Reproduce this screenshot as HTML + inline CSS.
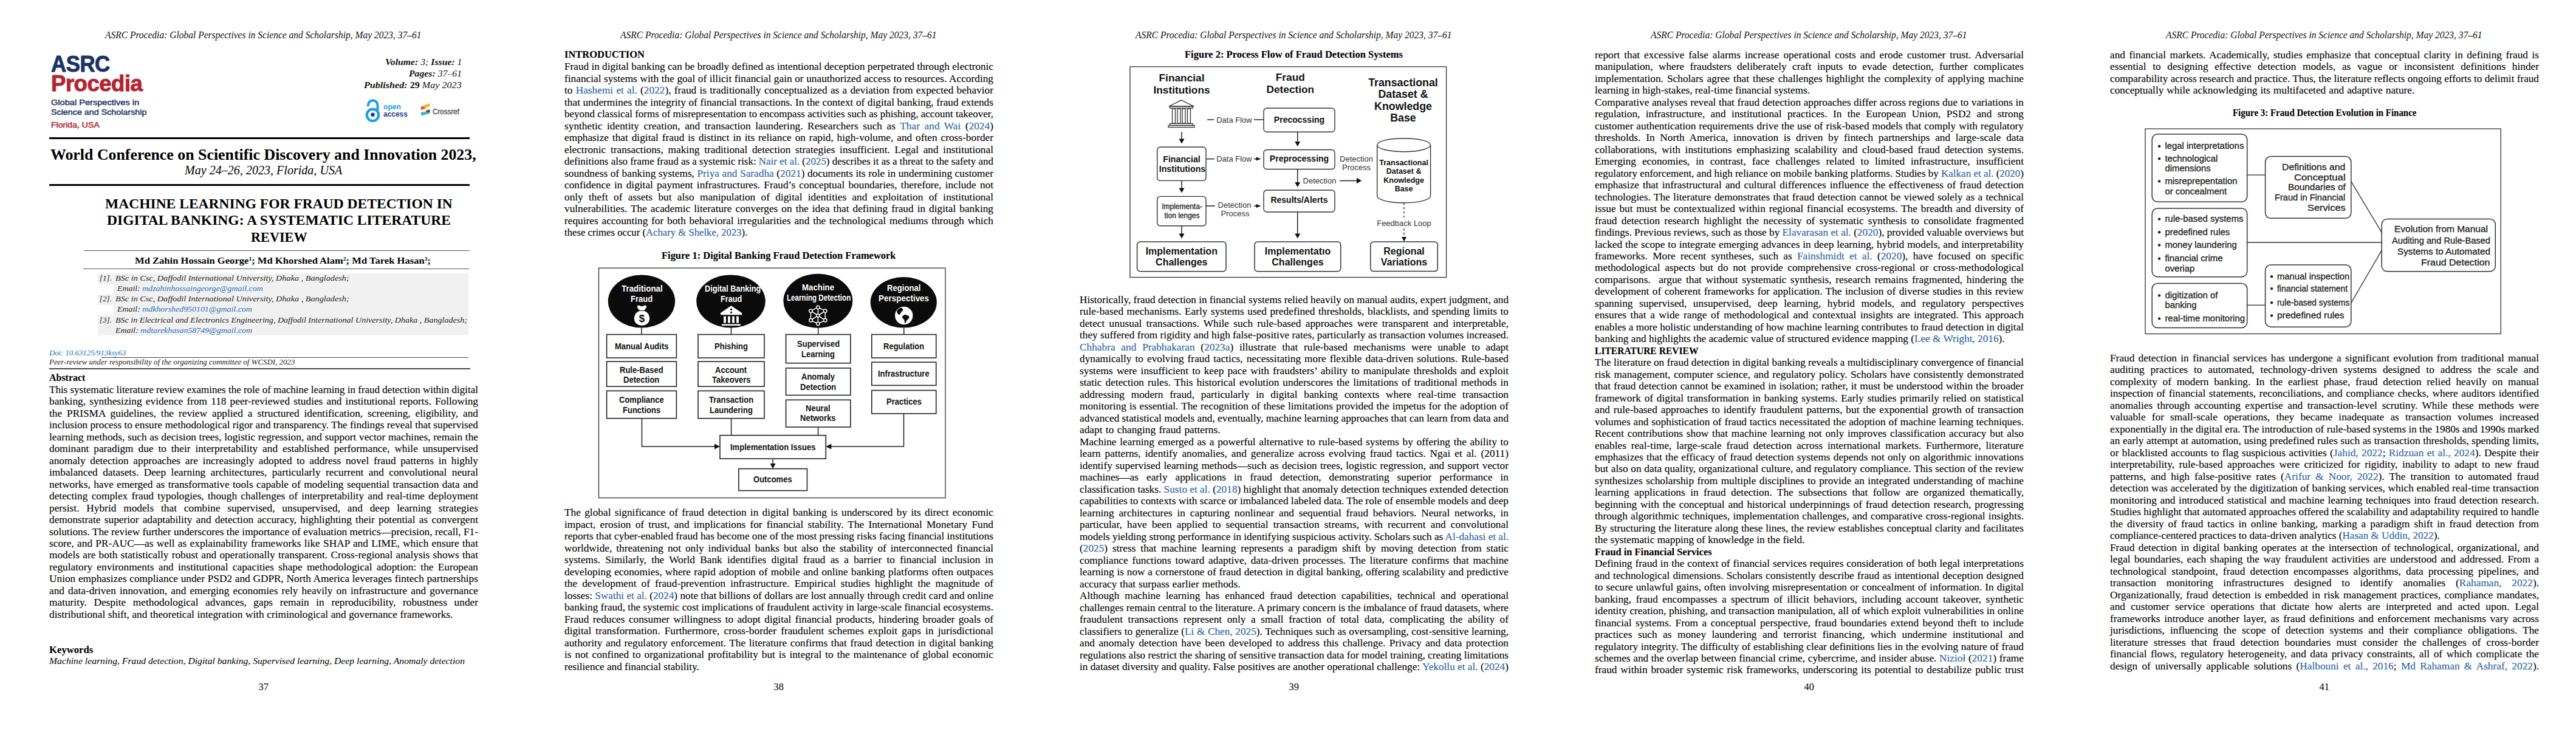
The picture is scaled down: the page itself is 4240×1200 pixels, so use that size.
<!DOCTYPE html>
<html><head><meta charset="utf-8"><title>ASRC Procedia</title><style>

html,body{margin:0;padding:0;background:#fff}
body{width:4240px;height:1200px;position:relative;overflow:hidden}
.pg{position:absolute;top:0;width:848px;height:1200px;overflow:hidden}
.t{position:absolute;white-space:nowrap;font-family:"Liberation Serif",serif;color:#000;transform-origin:0 0;line-height:20px}
.r{position:absolute}
.ic{position:absolute;overflow:visible}
.fg{position:absolute;left:0;top:0;overflow:visible}
.j{text-align:justify;text-align-last:justify}
.a{color:#2b6fb6}
.bd{font-size:16.0px;-webkit-text-stroke:0.1px #000}
.hb{font-weight:bold}
.hd{font-size:16px;font-style:italic;color:#111}
.pn{font-size:16.4px}
.lg{font-family:"Liberation Sans",sans-serif;font-weight:bold;letter-spacing:-0.5px;-webkit-text-stroke:0.9px currentColor}
.lgs{font-family:"Liberation Sans",sans-serif;font-size:13px;-webkit-text-stroke:0.45px currentColor}
.navy{color:#1a3364}
.red{color:#b42431}
.vol{font-size:15.4px;font-style:italic;color:#111}
.vol .up{font-style:normal}
.oa{font-family:"Liberation Sans",sans-serif;font-weight:bold;font-size:12px}
.cr{font-family:"Liberation Sans",sans-serif;font-size:12px;color:#444;-webkit-text-stroke:0.3px #444}
.conf{font-size:25px;font-weight:bold}
.confd{font-size:20px;font-style:italic}
.ttl{font-size:23px;font-weight:bold}
.auth{font-size:15.5px;font-weight:bold}
.auth sup{font-size:9px;vertical-align:5px;line-height:0}
.aff{font-size:13.4px;font-style:italic;color:#222}
.doi{font-size:13px;font-style:italic}
.peer{font-size:12.6px;font-style:italic;color:#222}
.kw{font-size:15.4px;font-style:italic}
.sf{font-family:"Liberation Sans",sans-serif;color:#111}
.sb{font-family:"Liberation Sans",sans-serif;font-weight:bold;color:#111}
.wt{color:#fff}
.sm{font-family:"Liberation Sans",sans-serif;color:#222;-webkit-text-stroke:0.3px #222}
.f1{font-size:13px}
.f1e{font-size:14.8px}
.f1b{font-size:14.8px}
.f2h{font-size:17.3px}
.f2h2{font-size:17.8px}
.f2s{font-size:13px;color:#333}
.f2b{font-size:14px}
.f2m{font-size:14.2px}
.f2i{font-size:12px}
.f2c{font-size:12.5px}
.f2g{font-size:16px}
.f3{font-size:14.9px;color:#222;-webkit-text-stroke:0.3px #222}

</style></head><body>
<div class="pg" style="left:0px">
<div class="t hd" style="left: 173px; top: 47.9px; transform: scaleX(0.9691);">ASRC Procedia: Global Perspectives in Science and Scholarship, May 2023, 37–61</div>
<div class="t pn" style="left: 425.6px; top: 1120.5px;">37</div>
<div class="t lg navy" style="font-size: 36px; left: 83.6px; top: 95.5px; transform: scaleX(0.9668);">ASRC</div>
<div class="t lg red" style="font-size: 37px; left: 83.6px; top: 127.5px; transform: scaleX(0.9875);">Procedia</div>
<div class="t lgs navy" style="left: 83.6px; top: 158.6px; transform: scaleX(1.1218);">Global Perspectives in</div>
<div class="t lgs navy" style="left: 83.6px; top: 175.1px; transform: scaleX(1.1);">Science and Scholarship</div>
<div class="t lgs red" style="left: 83.6px; top: 196.2px; transform: scaleX(1.0827);">Florida, USA</div>
<div class="t vol" style="left: 633.5px; top: 92.3px; transform: scaleX(1.0235);"><b>Volume:</b> 3; <b>Issue:</b> 1</div>
<div class="t vol" style="left: 673px; top: 111px; transform: scaleX(1.0226);"><b>Pages:</b> 37–61</div>
<div class="t vol" style="left: 599.3px; top: 129.7px; transform: scaleX(1.0469);"><b>Published:</b> <b class="up">29</b> May 2023</div>
<svg class="ic" style="left:600px;top:160px" width="30" height="44" viewBox="0 0 30 44">
<path d="M5.9 15 V13 A7.8 7.8 0 0 1 21.5 13 V23" fill="none" stroke="#1ba0e2" stroke-width="4"></path>
<circle cx="13.5" cy="29.3" r="9.7" fill="none" stroke="#1ba0e2" stroke-width="4.2"></circle>
<circle cx="13.5" cy="28.8" r="3.3" fill="#1d3e8e"></circle>
</svg>
<div class="t oa" style="color: rgb(27, 160, 226); left: 630.8px; top: 165.5px; transform: scaleX(1.008);">open</div>
<div class="t oa" style="color: rgb(29, 62, 142); left: 630.8px; top: 178px; transform: scaleX(0.9938);">access</div>
<svg class="ic" style="left:692px;top:169px" width="18" height="23" viewBox="0 0 18 23">
<polygon points="1,6.2 15.5,0.7 15.5,6 1,11.4" fill="#f6b52a"></polygon>
<polygon points="1,6 9.5,8.8 1,12" fill="#e8402f"></polygon>
<polygon points="4.5,12.4 14.4,10.2 14.4,11.6 4.5,13.8" fill="#d5d5d5"></polygon>
<polygon points="8.9,13.4 15.5,11 15.5,16.8 8.9,15.8" fill="#4a4f55"></polygon>
<polygon points="1.2,15.2 8.9,15.5 15.5,16.8 15.5,17.6 1.2,21.8" fill="#3eb1c8"></polygon>
</svg>
<div class="t cr" style="left: 711.6px; top: 173.5px; transform: scaleX(0.9704);">Crossref</div>
<div class="r" style="left:81.00px;top:225.80px;width:692.00px;height:3.70px;background:#000"></div>
<div class="t conf" style="left: 83.3px; top: 244.5px; transform: scaleX(1.0345);">World Conference on Scientific Discovery and Innovation 2023,</div>
<div class="t confd" style="left: 303.8px; top: 270px; transform: scaleX(1.0034);">May 24–26, 2023, Florida, USA</div>
<div class="r" style="left:81.00px;top:302.80px;width:692.00px;height:3.70px;background:#000"></div>
<div class="t ttl" style="left: 173.2px; top: 326.3px; transform: scaleX(1.0228);">MACHINE LEARNING FOR FRAUD DETECTION IN</div>
<div class="t ttl" style="left: 176px; top: 352.9px; transform: scaleX(1.0251);">DIGITAL BANKING: A SYSTEMATIC LITERATURE</div>
<div class="t ttl" style="left: 413px; top: 380.8px; transform: scaleX(0.967);">REVIEW</div>
<div class="r" style="left:138.30px;top:412.00px;width:634.70px;height:1.20px;background:#555"></div>
<div class="t auth" style="left: 222px; top: 419.4px; transform: scaleX(1.0692);">Md Zahin Hossain George<sup>1</sup>; Md Khorshed Alam<sup>2</sup>; Md Tarek Hasan<sup>3</sup>;</div>
<div class="r" style="left:137.00px;top:442.20px;width:635.00px;height:1.20px;background:#555"></div>
<div class="r" style="left:161.30px;top:449.70px;width:609.70px;height:102.60px;background:#f1f1f1"></div>
<div class="r" style="left:161.30px;top:467.50px;width:25.20px;height:17.00px;background:#fff"></div>
<div class="r" style="left:161.30px;top:501.50px;width:25.20px;height:17.00px;background:#fff"></div>
<div class="t aff" style="left: 163.7px; top: 448px;">[1].</div>
<div class="t aff" style="left: 189.7px; top: 448px; transform: scaleX(1.0631);">BSc in Csc, Daffodil International University, Dhaka , Bangladesh;</div>
<div class="t aff" style="left: 192.9px; top: 464.9px; transform: scaleX(1.0364);">Email: <span class="a">mdzahinhossaingeorge@gmail.com</span></div>
<div class="t aff" style="left: 163.7px; top: 482.3px;">[2].</div>
<div class="t aff" style="left: 189.7px; top: 482.3px; transform: scaleX(1.0631);">BSc in Csc, Daffodil International University, Dhaka , Bangladesh;</div>
<div class="t aff" style="left: 192.9px; top: 499.1px; transform: scaleX(1.0369);">Email: <span class="a">mdkhorshed950101@gmail.com</span></div>
<div class="t aff" style="left: 163.7px; top: 517px;">[3].</div>
<div class="t aff" style="left: 189.7px; top: 517px; transform: scaleX(1.0499);">BSc in Electrical and Electronics Engineering, Daffodil International University, Dhaka , Bangladesh;</div>
<div class="t aff" style="left: 189.7px; top: 534.3px; transform: scaleX(1.0363);">Email: <span class="a">mdtarekhasan58749@gmail.com</span></div>
<div class="t doi a" style="left: 81px; top: 571px; transform: scaleX(0.9825);">Doi: 10.63125/913ksy63</div>
<div class="r" style="left:167.00px;top:587.70px;width:604.00px;height:1.10px;background:#444"></div>
<div class="t peer" style="left: 81px; top: 586.2px; transform: scaleX(1.0256);">Peer-review under responsibility of the organizing committee of WCSDI, 2023</div>
<div class="r" style="left:81.00px;top:606.00px;width:693.30px;height:1.60px;background:#444"></div>
<div class="t bd hb" style="left: 81px; top: 611.7px; transform: scaleX(0.9975);">Abstract</div>
<div class="t bd j" style="left: 81px; top: 631.9px; width: 664.67px; transform: scaleX(1.0622);">This systematic literature review examines the role of machine learning in fraud detection within digital</div>
<div class="t bd j" style="left: 81px; top: 651.37px; width: 653.1px; transform: scaleX(1.081);">banking, synthesizing evidence from 118 peer-reviewed studies and institutional reports. Following</div>
<div class="t bd j" style="left: 81px; top: 670.84px; width: 653.1px; transform: scaleX(1.081);">the PRISMA guidelines, the review applied a structured identification, screening, eligibility, and</div>
<div class="t bd j" style="left: 81px; top: 690.31px; width: 655.81px; transform: scaleX(1.0765);">inclusion process to ensure methodological rigor and transparency. The findings reveal that supervised</div>
<div class="t bd j" style="left: 81px; top: 709.78px; width: 653.1px; transform: scaleX(1.081);">learning methods, such as decision trees, logistic regression, and support vector machines, remain the</div>
<div class="t bd j" style="left: 81px; top: 729.25px; width: 653.1px; transform: scaleX(1.081);">dominant paradigm due to their interpretability and established performance, while unsupervised</div>
<div class="t bd j" style="left: 81px; top: 748.72px; width: 653.1px; transform: scaleX(1.081);">anomaly detection approaches are increasingly adopted to address novel fraud patterns in highly</div>
<div class="t bd j" style="left: 81px; top: 768.19px; width: 653.1px; transform: scaleX(1.081);">imbalanced datasets. Deep learning architectures, particularly recurrent and convolutional neural</div>
<div class="t bd j" style="left: 81px; top: 787.66px; width: 653.1px; transform: scaleX(1.081);">networks, have emerged as transformative tools capable of modeling sequential transaction data and</div>
<div class="t bd j" style="left: 81px; top: 807.13px; width: 653.1px; transform: scaleX(1.081);">detecting complex fraud typologies, though challenges of interpretability and real-time deployment</div>
<div class="t bd j" style="left: 81px; top: 826.6px; width: 653.1px; transform: scaleX(1.081);">persist. Hybrid models that combine supervised, unsupervised, and deep learning strategies</div>
<div class="t bd j" style="left: 81px; top: 846.07px; width: 653.1px; transform: scaleX(1.081);">demonstrate superior adaptability and detection accuracy, highlighting their potential as convergent</div>
<div class="t bd j" style="left: 81px; top: 865.54px; width: 653.1px; transform: scaleX(1.081);">solutions. The review further underscores the importance of evaluation metrics—precision, recall, F1-</div>
<div class="t bd j" style="left: 81px; top: 885.01px; width: 653.1px; transform: scaleX(1.081);">score, and PR-AUC—as well as explainability frameworks like SHAP and LIME, which ensure that</div>
<div class="t bd j" style="left: 81px; top: 904.48px; width: 653.1px; transform: scaleX(1.081);">models are both statistically robust and operationally transparent. Cross-regional analysis shows that</div>
<div class="t bd j" style="left: 81px; top: 923.95px; width: 653.1px; transform: scaleX(1.081);">regulatory environments and institutional capacities shape methodological adoption: the European</div>
<div class="t bd j" style="left: 81px; top: 943.42px; width: 653.1px; transform: scaleX(1.081);">Union emphasizes compliance under PSD2 and GDPR, North America leverages fintech partnerships</div>
<div class="t bd j" style="left: 81px; top: 962.89px; width: 653.1px; transform: scaleX(1.081);">and data-driven innovation, and emerging economies rely heavily on infrastructure and governance</div>
<div class="t bd j" style="left: 81px; top: 982.36px; width: 653.1px; transform: scaleX(1.081);">maturity. Despite methodological advances, gaps remain in reproducibility, robustness under</div>
<div class="t bd j" style="left: 81px; top: 1001.83px; width: 614.62px; transform: scaleX(1.081);">distributional shift, and theoretical integration with criminological and governance frameworks.</div>
<div class="t bd hb" style="left: 81px; top: 1060px; transform: scaleX(1.0429);">Keywords</div>
<div class="t kw" style="left: 81px; top: 1078px; transform: scaleX(1.0197);">Machine learning, Fraud detection, Digital banking, Supervised learning, Deep learning, Anomaly detection</div>
</div>
<div class="pg" style="left:848px">
<div class="t hd" style="left: 172.8px; top: 47.9px; transform: scaleX(0.9691);">ASRC Procedia: Global Perspectives in Science and Scholarship, May 2023, 37–61</div>
<div class="t pn" style="left: 425.6px; top: 1120.5px;">38</div>
<div class="t bd hb" style="left: 81px; top: 80.3px; transform: scaleX(1.0311);">INTRODUCTION</div>
<div class="t bd j" style="left: 81px; top: 100.2px; width: 657.11px; transform: scaleX(1.0744);">Fraud in digital banking can be broadly defined as intentional deception perpetrated through electronic</div>
<div class="t bd j" style="left: 81px; top: 119.69px; width: 653.1px; transform: scaleX(1.081);">financial systems with the goal of illicit financial gain or unauthorized access to resources. According</div>
<div class="t bd j" style="left: 81px; top: 139.17px; width: 653.1px; transform: scaleX(1.081);">to <span class="a">Hashemi et al.</span> (<span class="a">2022</span>), fraud is traditionally conceptualized as a deviation from expected behavior</div>
<div class="t bd j" style="left: 81px; top: 158.66px; width: 653.1px; transform: scaleX(1.081);">that undermines the integrity of financial transactions. In the context of digital banking, fraud extends</div>
<div class="t bd j" style="left: 81px; top: 178.14px; width: 664.06px; transform: scaleX(1.0632);">beyond classical forms of misrepresentation to encompass activities such as phishing, account takeover,</div>
<div class="t bd j" style="left: 81px; top: 197.62px; width: 653.1px; transform: scaleX(1.081);">synthetic identity creation, and transaction laundering. Researchers such as <span class="a">Thar and Wai</span> (<span class="a">2024</span>)</div>
<div class="t bd j" style="left: 81px; top: 217.11px; width: 653.1px; transform: scaleX(1.081);">emphasize that digital fraud is distinct in its reliance on rapid, high-volume, and often cross-border</div>
<div class="t bd j" style="left: 81px; top: 236.59px; width: 653.1px; transform: scaleX(1.081);">electronic transactions, making traditional detection strategies insufficient. Legal and institutional</div>
<div class="t bd j" style="left: 81px; top: 256.08px; width: 666.91px; transform: scaleX(1.0586);">definitions also frame fraud as a systemic risk: <span class="a">Nair et al.</span> (<span class="a">2025</span>) describes it as a threat to the safety and</div>
<div class="t bd j" style="left: 81px; top: 275.56px; width: 653.1px; transform: scaleX(1.081);">soundness of banking systems, <span class="a">Priya and Saradha</span> (<span class="a">2021</span>) documents its role in undermining customer</div>
<div class="t bd j" style="left: 81px; top: 295.05px; width: 653.1px; transform: scaleX(1.081);">confidence in digital payment infrastructures. Fraud’s conceptual boundaries, therefore, include not</div>
<div class="t bd j" style="left: 81px; top: 314.53px; width: 653.1px; transform: scaleX(1.081);">only theft of assets but also manipulation of digital identities and exploitation of institutional</div>
<div class="t bd j" style="left: 81px; top: 334.02px; width: 653.1px; transform: scaleX(1.081);">vulnerabilities. The academic literature converges on the idea that defining fraud in digital banking</div>
<div class="t bd j" style="left: 81px; top: 353.5px; width: 653.1px; transform: scaleX(1.081);">requires accounting for both behavioral irregularities and the technological mediums through which</div>
<div class="t bd j" style="left: 81px; top: 372.99px; width: 288.8px; transform: scaleX(1.0433);">these crimes occur (<span class="a">Achary &amp; Shelke, 2023</span>).</div>
<div class="t bd hb" style="left: 241px; top: 410.8px; transform: scaleX(1.0286);">Figure 1: Digital Banking Fraud Detection Framework</div>
<div class="t bd j" style="left: 81px; top: 834.2px; width: 653.1px; transform: scaleX(1.081);">The global significance of fraud detection in digital banking is underscored by its direct economic</div>
<div class="t bd j" style="left: 81px; top: 853.7px; width: 653.1px; transform: scaleX(1.081);">impact, erosion of trust, and implications for financial stability. The International Monetary Fund</div>
<div class="t bd j" style="left: 81px; top: 873.2px; width: 657.27px; transform: scaleX(1.0741);">reports that cyber-enabled fraud has become one of the most pressing risks facing financial institutions</div>
<div class="t bd j" style="left: 81px; top: 892.7px; width: 653.1px; transform: scaleX(1.081);">worldwide, threatening not only individual banks but also the stability of interconnected financial</div>
<div class="t bd j" style="left: 81px; top: 912.2px; width: 653.1px; transform: scaleX(1.081);">systems. Similarly, the World Bank identifies digital fraud as a barrier to financial inclusion in</div>
<div class="t bd j" style="left: 81px; top: 931.7px; width: 653.1px; transform: scaleX(1.081);">developing economies, where rapid adoption of mobile and online banking platforms often outpaces</div>
<div class="t bd j" style="left: 81px; top: 951.2px; width: 653.1px; transform: scaleX(1.081);">the development of fraud-prevention infrastructure. Empirical studies highlight the magnitude of</div>
<div class="t bd j" style="left: 81px; top: 970.7px; width: 655.86px; transform: scaleX(1.0765);">losses: <span class="a">Swathi et al.</span> (<span class="a">2024</span>) note that billions of dollars are lost annually through credit card and online</div>
<div class="t bd j" style="left: 81px; top: 990.2px; width: 659.06px; transform: scaleX(1.0712);">banking fraud, the systemic cost implications of fraudulent activity in large-scale financial ecosystems.</div>
<div class="t bd j" style="left: 81px; top: 1009.7px; width: 653.1px; transform: scaleX(1.081);">Fraud reduces consumer willingness to adopt digital financial products, hindering broader goals of</div>
<div class="t bd j" style="left: 81px; top: 1029.2px; width: 653.1px; transform: scaleX(1.081);">digital transformation. Furthermore, cross-border fraudulent schemes exploit gaps in jurisdictional</div>
<div class="t bd j" style="left: 81px; top: 1048.7px; width: 653.1px; transform: scaleX(1.081);">authority and regulatory enforcement. The literature confirms that fraud detection in digital banking</div>
<div class="t bd j" style="left: 81px; top: 1068.2px; width: 653.1px; transform: scaleX(1.081);">is not confined to organizational profitability but is integral to the maintenance of global economic</div>
<div class="t bd j" style="left: 81px; top: 1087.7px; width: 206.89px; transform: scaleX(1.0716);">resilience and financial stability.</div>
<svg class="fg" width="848" height="1200" viewBox="0 0 848 1200"><rect x="137.50" y="441.20" width="570.50" height="378.30" rx="0" fill="#fff" stroke="#333" stroke-width="1.3"></rect><ellipse cx="208" cy="496.0" rx="55.2" ry="43.5" fill="#0b0b0b"></ellipse><ellipse cx="355" cy="496.0" rx="56.8" ry="43.5" fill="#0b0b0b"></ellipse><ellipse cx="498.4000000000001" cy="495.2" rx="57" ry="44.5" fill="#0b0b0b"></ellipse><ellipse cx="639.3" cy="497.8" rx="54.6" ry="41.8" fill="#0b0b0b"></ellipse><path d="M208 537 V551" fill="none" stroke="#222" stroke-width="1.5"></path><path d="M355.5 537 V551" fill="none" stroke="#222" stroke-width="1.5"></path><path d="M498.70000000000005 539 V551" fill="none" stroke="#222" stroke-width="1.5"></path><path d="M639.8 540 V551" fill="none" stroke="#222" stroke-width="1.5"></path><rect x="150.60" y="550.60" width="114.80" height="38.50" rx="0" fill="#fff" stroke="#222" stroke-width="1.6"></rect><rect x="150.60" y="595.20" width="114.80" height="41.00" rx="0" fill="#fff" stroke="#222" stroke-width="1.6"></rect><rect x="150.60" y="643.40" width="114.80" height="45.30" rx="0" fill="#fff" stroke="#222" stroke-width="1.6"></rect><rect x="301.00" y="550.60" width="109.00" height="38.50" rx="0" fill="#fff" stroke="#222" stroke-width="1.6"></rect><rect x="301.00" y="595.20" width="109.00" height="41.00" rx="0" fill="#fff" stroke="#222" stroke-width="1.6"></rect><rect x="301.00" y="643.40" width="109.00" height="45.30" rx="0" fill="#fff" stroke="#222" stroke-width="1.6"></rect><rect x="445.60" y="550.60" width="106.30" height="47.10" rx="0" fill="#fff" stroke="#222" stroke-width="1.6"></rect><rect x="445.60" y="605.90" width="106.30" height="44.60" rx="0" fill="#fff" stroke="#222" stroke-width="1.6"></rect><rect x="445.60" y="658.30" width="106.30" height="44.70" rx="0" fill="#fff" stroke="#222" stroke-width="1.6"></rect><rect x="586.80" y="550.60" width="106.00" height="38.50" rx="0" fill="#fff" stroke="#222" stroke-width="1.6"></rect><rect x="586.80" y="596.30" width="106.00" height="38.10" rx="0" fill="#fff" stroke="#222" stroke-width="1.6"></rect><rect x="586.80" y="642.60" width="106.00" height="38.20" rx="0" fill="#fff" stroke="#222" stroke-width="1.6"></rect><rect x="337.00" y="716.60" width="174.30" height="38.50" rx="0" fill="#fff" stroke="#222" stroke-width="1.6"></rect><rect x="367.90" y="771.60" width="112.60" height="36.00" rx="0" fill="#fff" stroke="#222" stroke-width="1.6"></rect><path d="M208.5 688.7 V735.1 H330" fill="none" stroke="#222" stroke-width="1.5"></path><path d="M355.5999999999999 688.7 V716.6" fill="none" stroke="#222" stroke-width="1.5"></path><path d="M498.5999999999999 703 V716.6" fill="none" stroke="#222" stroke-width="1.5"></path><path d="M639.5 680.8 V735.1 H518" fill="none" stroke="#222" stroke-width="1.5"></path><path d="M424.0999999999999 755.1 V765" fill="none" stroke="#222" stroke-width="1.5"></path><polygon points="337,735.1 328,730.6 328,739.6" fill="#111"></polygon><polygon points="511.29999999999995,735.1 520.3,730.6 520.3,739.6" fill="#111"></polygon><polygon points="424.0999999999999,771.6 419.5999999999999,763 428.5999999999999,763" fill="#111"></polygon><g transform="translate(208.5,0)" fill="#fff"><path d="M-7.6 505.4 C-8.2 502.6 -4.5 502.2 -2.2 503.8 C-1 504.5 1 504.5 2.2 503.8 C4.5 502.2 8.2 502.6 7.6 505.4 C6.8 507.5 5 509.5 3.8 511 L-3.8 511 C-5 509.5 -6.8 507.5 -7.6 505.4 Z"></path><path d="M-3.6 512 C-9 513 -12.6 518 -12.6 524.5 C-12.6 531.5 -7 535.8 0 535.8 C7 535.8 12.6 531.5 12.6 524.5 C12.6 518 9 513 3.6 512 Z"></path><text x="0" y="529.6" text-anchor="middle" font-family="Liberation Sans" font-weight="bold" font-size="17" fill="#0b0b0b">$</text></g><g transform="translate(355.5,0)" fill="#fff"><path d="M0 503.2 L17.5 515 L17.5 518.2 L-17.5 518.2 L-17.5 515 Z"></path><circle cx="0" cy="509.2" r="1.7" fill="#0b0b0b"></circle><circle cx="0" cy="514.2" r="1.5" fill="#0b0b0b"></circle><rect x="-12.4" y="520.6" width="3.8" height="11"></rect><rect x="-5.4" y="520.6" width="3.8" height="11"></rect><rect x="1.6" y="520.6" width="3.8" height="11"></rect><rect x="8.6" y="520.6" width="3.8" height="11"></rect><rect x="-15.5" y="533.6" width="31" height="2.4"></rect></g><g transform="translate(498.4000000000001,519.5)" stroke="#fff" stroke-width="1.5" fill="none"><line x1="0" y1="-13.6" x2="11.9" y2="-7.8"></line><line x1="0" y1="0" x2="0" y2="-13.6"></line><line x1="11.9" y1="-7.8" x2="11.9" y2="7.7"></line><line x1="0" y1="0" x2="11.9" y2="-7.8"></line><line x1="11.9" y1="7.7" x2="0" y2="13.5"></line><line x1="0" y1="0" x2="11.9" y2="7.7"></line><line x1="0" y1="13.5" x2="-11.9" y2="7.7"></line><line x1="0" y1="0" x2="0" y2="13.5"></line><line x1="-11.9" y1="7.7" x2="-11.9" y2="-7.8"></line><line x1="0" y1="0" x2="-11.9" y2="7.7"></line><line x1="-11.9" y1="-7.8" x2="0" y2="-13.6"></line><line x1="0" y1="0" x2="-11.9" y2="-7.8"></line><circle cx="0" cy="-13.6" r="2.7" fill="#0b0b0b"></circle><circle cx="11.9" cy="-7.8" r="2.7" fill="#0b0b0b"></circle><circle cx="11.9" cy="7.7" r="2.7" fill="#0b0b0b"></circle><circle cx="0" cy="13.5" r="2.7" fill="#0b0b0b"></circle><circle cx="-11.9" cy="7.7" r="2.7" fill="#0b0b0b"></circle><circle cx="-11.9" cy="-7.8" r="2.7" fill="#0b0b0b"></circle><circle cx="0" cy="0" r="2.4" fill="#0b0b0b"></circle></g><g transform="translate(639.8,519.5)"><circle r="14.7" fill="#fff"></circle><path d="M-10.1 -10.1 C-7 -12.5 -4 -13 -3.1 -12.4 C-2 -11 -1.2 -9.5 -1.6 -8.5 C-3 -7 -4 -6.5 -4.7 -5.4 C-5.5 -3.5 -6 -1.8 -7 -1.6 C-8.5 -1.5 -9.5 -2 -9.7 -2.3 C-10.5 -4 -11.8 -6 -11.6 -7 Z" fill="#0b0b0b"></path><path d="M-3.1 1.6 C-1 -0.5 0.5 -1.8 2.3 -1.6 C4 -1.2 5.5 -0.5 7 0 C8.5 1 9 2.5 8.5 3.9 C7.5 5.5 6 6.5 4.7 7.8 C4 9 3.8 10.5 3.1 11.6 C2.5 12.3 2 12.6 1.6 12.4 C1 11 0.9 9 0.8 7.8 C0.3 6.5 -0.5 5.5 -1.6 4.7 C-2.5 3.8 -3.3 2.5 -3.1 1.6 Z" fill="#0b0b0b"></path></g></svg>
<div class="t sb f1e wt" style="left: 174.5px; top: 465px; transform: scaleX(0.9061);">Traditional</div>
<div class="t sb f1e wt" style="left: 190.05px; top: 482px; transform: scaleX(0.883);">Fraud</div>
<div class="t sb f1e wt" style="left: 312.4px; top: 465px; transform: scaleX(0.8561);">Digital Banking</div>
<div class="t sb f1e wt" style="left: 337.6px; top: 482px; transform: scaleX(0.8611);">Fraud</div>
<div class="t sb f1e wt" style="left: 471.75px; top: 462.5px; transform: scaleX(0.8969);">Machine</div>
<div class="t sb f1e wt" style="left: 447.45px; top: 480.3px; transform: scaleX(0.7857);">Learning Detection</div>
<div class="t sb f1e wt" style="left: 611.85px; top: 464.2px; transform: scaleX(0.885);">Regional</div>
<div class="t sb f1e wt" style="left: 597.95px; top: 481.4px; transform: scaleX(0.9101);">Perspectives</div>
<div class="t sb f1b" style="left: 163.75px; top: 559.9px; transform: scaleX(0.88);">Manual Audits</div>
<div class="t sb f1b" style="left: 172.18px; top: 598.7px; transform: scaleX(0.88);">Rule-Based</div>
<div class="t sb f1b" style="left: 178.33px; top: 614.8px; transform: scaleX(0.88);">Detection</div>
<div class="t sb f1b" style="left: 171.09px; top: 648px; transform: scaleX(0.88);">Compliance</div>
<div class="t sb f1b" style="left: 176.89px; top: 664.7px; transform: scaleX(0.88);">Functions</div>
<div class="t sb f1b" style="left: 328.01px; top: 559.9px; transform: scaleX(0.88);">Phishing</div>
<div class="t sb f1b" style="left: 329.45px; top: 598.7px; transform: scaleX(0.88);">Account</div>
<div class="t sb f1b" style="left: 323.76px; top: 614.8px; transform: scaleX(0.88);">Takeovers</div>
<div class="t sb f1b" style="left: 318.95px; top: 648px; transform: scaleX(0.88);">Transaction</div>
<div class="t sb f1b" style="left: 320.05px; top: 664.7px; transform: scaleX(0.88);">Laundering</div>
<div class="t sb f1b" style="left: 463.6px; top: 556.3px; transform: scaleX(0.88);">Supervised</div>
<div class="t sb f1b" style="left: 471.21px; top: 573px; transform: scaleX(0.88);">Learning</div>
<div class="t sb f1b" style="left: 471.2px; top: 609.8px; transform: scaleX(0.88);">Anomaly</div>
<div class="t sb f1b" style="left: 469.03px; top: 626.6px; transform: scaleX(0.88);">Detection</div>
<div class="t sb f1b" style="left: 478.43px; top: 662.2px; transform: scaleX(0.88);">Neural</div>
<div class="t sb f1b" style="left: 469.39px; top: 678.3px; transform: scaleX(0.88);">Networks</div>
<div class="t sb f1b" style="left: 606.16px; top: 559.9px; transform: scaleX(0.88);">Regulation</div>
<div class="t sb f1b" style="left: 597.47px; top: 605.2px; transform: scaleX(0.88);">Infrastructure</div>
<div class="t sb f1b" style="left: 610.84px; top: 650.8px; transform: scaleX(0.88);">Practices</div>
<div class="t sb f1b" style="left: 354.01px; top: 725.7px; transform: scaleX(0.88);">Implementation Issues</div>
<div class="t sb f1b" style="left: 392.36px; top: 778.8px; transform: scaleX(0.88);">Outcomes</div>
</div>
<div class="pg" style="left:1696px">
<div class="t hd" style="left: 172.8px; top: 47.9px; transform: scaleX(0.9691);">ASRC Procedia: Global Perspectives in Science and Scholarship, May 2023, 37–61</div>
<div class="t pn" style="left: 425.6px; top: 1120.5px;">39</div>
<div class="t bd hb" style="left: 254px; top: 79.6px; transform: scaleX(1.0336);">Figure 2: Process Flow of Fraud Detection Systems</div>
<div class="t bd j" style="left: 81px; top: 483.7px; width: 658.33px; transform: scaleX(1.0724);">Historically, fraud detection in financial systems relied heavily on manual audits, expert judgment, and</div>
<div class="t bd j" style="left: 81px; top: 503.21px; width: 653.1px; transform: scaleX(1.081);">rule-based mechanisms. Early systems used predefined thresholds, blacklists, and spending limits to</div>
<div class="t bd j" style="left: 81px; top: 522.71px; width: 653.1px; transform: scaleX(1.081);">detect unusual transactions. While such rule-based approaches were transparent and interpretable,</div>
<div class="t bd j" style="left: 81px; top: 542.22px; width: 653.72px; transform: scaleX(1.08);">they suffered from rigidity and high false-positive rates, particularly as transaction volumes increased.</div>
<div class="t bd j" style="left: 81px; top: 561.72px; width: 653.1px; transform: scaleX(1.081);"><span class="a">Chhabra and Prabhakaran</span> (<span class="a">2023a</span>) illustrate that rule-based mechanisms were unable to adapt</div>
<div class="t bd j" style="left: 81px; top: 581.23px; width: 653.1px; transform: scaleX(1.081);">dynamically to evolving fraud tactics, necessitating more flexible data-driven solutions. Rule-based</div>
<div class="t bd j" style="left: 81px; top: 600.73px; width: 653.1px; transform: scaleX(1.081);">systems were insufficient to keep pace with fraudsters’ ability to manipulate thresholds and exploit</div>
<div class="t bd j" style="left: 81px; top: 620.24px; width: 653.1px; transform: scaleX(1.081);">static detection rules. This historical evolution underscores the limitations of traditional methods in</div>
<div class="t bd j" style="left: 81px; top: 639.74px; width: 653.1px; transform: scaleX(1.081);">addressing modern fraud, particularly in digital banking contexts where real-time transaction</div>
<div class="t bd j" style="left: 81px; top: 659.25px; width: 653.1px; transform: scaleX(1.081);">monitoring is essential. The recognition of these limitations provided the impetus for the adoption of</div>
<div class="t bd j" style="left: 81px; top: 678.75px; width: 653.36px; transform: scaleX(1.0806);">advanced statistical models and, eventually, machine learning approaches that can learn from data and</div>
<div class="t bd j" style="left: 81px; top: 698.25px; width: 214.15px; transform: scaleX(1.081);">adapt to changing fraud patterns.</div>
<div class="t bd j" style="left: 81px; top: 717.76px; width: 653.1px; transform: scaleX(1.081);">Machine learning emerged as a powerful alternative to rule-based systems by offering the ability to</div>
<div class="t bd j" style="left: 81px; top: 737.26px; width: 653.1px; transform: scaleX(1.081);">learn patterns, identify anomalies, and generalize across evolving fraud tactics. Ngai et al. (2011)</div>
<div class="t bd j" style="left: 81px; top: 756.77px; width: 653.1px; transform: scaleX(1.081);">identify supervised learning methods—such as decision trees, logistic regression, and support vector</div>
<div class="t bd j" style="left: 81px; top: 776.27px; width: 653.1px; transform: scaleX(1.081);">machines—as early applications in fraud detection, demonstrating superior performance in</div>
<div class="t bd j" style="left: 81px; top: 795.78px; width: 654.08px; transform: scaleX(1.0794);">classification tasks. <span class="a">Susto et al.</span> (<span class="a">2018</span>) highlight that anomaly detection techniques extended detection</div>
<div class="t bd j" style="left: 81px; top: 815.28px; width: 653.69px; transform: scaleX(1.08);">capabilities to contexts with scarce or imbalanced labeled data. The role of ensemble models and deep</div>
<div class="t bd j" style="left: 81px; top: 834.79px; width: 653.1px; transform: scaleX(1.081);">learning architectures in capturing nonlinear and sequential fraud behaviors. Neural networks, in</div>
<div class="t bd j" style="left: 81px; top: 854.29px; width: 653.1px; transform: scaleX(1.081);">particular, have been applied to sequential transaction streams, with recurrent and convolutional</div>
<div class="t bd j" style="left: 81px; top: 873.8px; width: 657.94px; transform: scaleX(1.0731);">models yielding strong performance in identifying suspicious activity. Scholars such as <span class="a">Al-dahasi et al.</span></div>
<div class="t bd j" style="left: 81px; top: 893.3px; width: 653.1px; transform: scaleX(1.081);">(<span class="a">2025</span>) stress that machine learning represents a paradigm shift by moving detection from static</div>
<div class="t bd j" style="left: 81px; top: 912.81px; width: 653.1px; transform: scaleX(1.081);">compliance functions toward adaptive, data-driven processes. The literature confirms that machine</div>
<div class="t bd j" style="left: 81px; top: 932.31px; width: 653.1px; transform: scaleX(1.081);">learning is now a cornerstone of fraud detection in digital banking, offering scalability and predictive</div>
<div class="t bd j" style="left: 81px; top: 951.82px; width: 244.68px; transform: scaleX(1.081);">accuracy that surpass earlier methods.</div>
<div class="t bd j" style="left: 81px; top: 971.33px; width: 653.1px; transform: scaleX(1.081);">Although machine learning has enhanced fraud detection capabilities, technical and operational</div>
<div class="t bd j" style="left: 81px; top: 990.83px; width: 657.06px; transform: scaleX(1.0745);">challenges remain central to the literature. A primary concern is the imbalance of fraud datasets, where</div>
<div class="t bd j" style="left: 81px; top: 1010.34px; width: 653.1px; transform: scaleX(1.081);">fraudulent transactions represent only a small fraction of total data, complicating the ability of</div>
<div class="t bd j" style="left: 81px; top: 1029.84px; width: 653.1px; transform: scaleX(1.081);">classifiers to generalize (<span class="a">Li &amp; Chen, 2025</span>). Techniques such as oversampling, cost-sensitive learning,</div>
<div class="t bd j" style="left: 81px; top: 1049.35px; width: 653.1px; transform: scaleX(1.081);">and anomaly detection have been developed to address this challenge. Privacy and data protection</div>
<div class="t bd j" style="left: 81px; top: 1068.85px; width: 658.48px; transform: scaleX(1.0722);">regulations also restrict the sharing of sensitive transaction data for model training, creating limitations</div>
<div class="t bd j" style="left: 81px; top: 1088.36px; width: 654.36px; transform: scaleX(1.0789);">in dataset diversity and quality. False positives are another operational challenge: <span class="a">Yekollu et al.</span> (<span class="a">2024</span>)</div>
<svg class="fg" width="848" height="1200" viewBox="0 0 848 1200"><rect x="164.00" y="109.80" width="520.60" height="346.70" rx="0" fill="#fff" stroke="#333" stroke-width="1.3"></rect><g transform="translate(248.5,164)" fill="none" stroke="#333" stroke-width="1.3"><path d="M0 0.8 L20.5 11 L-20.5 11 Z"></path><rect x="-19" y="11" width="38" height="3"></rect><rect x="-15" y="15" width="5" height="24"></rect><rect x="-6.5" y="15" width="5" height="24"></rect><rect x="1.5" y="15" width="5" height="24"></rect><rect x="10" y="15" width="5" height="24"></rect><rect x="-19" y="39.5" width="38" height="3"></rect><rect x="-21.5" y="42.5" width="43" height="3"></rect></g><path d="M249 217 V229" fill="none" stroke="#222" stroke-width="1.5"></path><polygon points="249,236.5 244.5,228.5 253.5,228.5" fill="#111"></polygon><rect x="208.70" y="242.00" width="80.30" height="55.40" rx="5" fill="#fff" stroke="#333" stroke-width="1.4"></rect><path d="M249 297.4 V310" fill="none" stroke="#222" stroke-width="1.5"></path><polygon points="249,317.5 244.5,309.5 253.5,309.5" fill="#111"></polygon><rect x="208.70" y="323.40" width="80.30" height="48.30" rx="5" fill="#fff" stroke="#333" stroke-width="1.4"></rect><path d="M249 371.7 V385" fill="none" stroke="#222" stroke-width="1.5"></path><polygon points="249,392.5 244.5,384.5 253.5,384.5" fill="#111"></polygon><rect x="384.00" y="178.00" width="117.00" height="39.30" rx="5" fill="#fff" stroke="#333" stroke-width="1.4"></rect><rect x="384.00" y="246.50" width="117.00" height="32.00" rx="5" fill="#fff" stroke="#333" stroke-width="1.4"></rect><rect x="384.00" y="313.00" width="117.00" height="36.00" rx="5" fill="#fff" stroke="#333" stroke-width="1.4"></rect><path d="M439.6999999999998 217.3 V234" fill="none" stroke="#222" stroke-width="1.5"></path><polygon points="439.6999999999998,241 435.1999999999998,233 444.1999999999998,233" fill="#111"></polygon><path d="M439.6999999999998 278.5 V300" fill="none" stroke="#222" stroke-width="1.5"></path><polygon points="439.6999999999998,308 435.1999999999998,300 444.1999999999998,300" fill="#111"></polygon><path d="M439.6999999999998 349 V385" fill="none" stroke="#222" stroke-width="1.5"></path><polygon points="439.6999999999998,392.5 435.1999999999998,384.5 444.1999999999998,384.5" fill="#111"></polygon><path d="M291 197 H302" fill="none" stroke="#222" stroke-width="1.5"></path><path d="M368 197 H384" fill="none" stroke="#222" stroke-width="1.5"></path><path d="M289 261.6 H303" fill="none" stroke="#222" stroke-width="1.5"></path><path d="M368 261.6 H374" fill="none" stroke="#222" stroke-width="1.5"></path><polygon points="379.5,261.6 371.5,258.6 371.5,264.6" fill="#111"></polygon><path d="M289 339 H304" fill="none" stroke="#222" stroke-width="1.5"></path><path d="M368 339 H374" fill="none" stroke="#222" stroke-width="1.5"></path><polygon points="379.5,339 371.5,336 371.5,342" fill="#111"></polygon><path d="M509 297.5 H537" fill="none" stroke="#222" stroke-width="1.5"></path><polygon points="545,297.5 537,292.7 537,302.3" fill="#111"></polygon><path d="M570.6999999999998 238.7 V322.8 A43.950000000000045 11 0 0 0 658.5999999999999 322.8 V238.7" fill="#fff" stroke="#333" stroke-width="1.4"></path><ellipse cx="614.6499999999999" cy="238.7" rx="43.950000000000045" ry="11" fill="#fff" stroke="#333" stroke-width="1.4"></ellipse><path d="M615 334 V391" fill="none" stroke="#333" stroke-width="1.4" stroke-dasharray="3.5 3.5"></path><polygon points="615,397.5 611,390 619,390" fill="#111"></polygon><rect x="570" y="358" width="90" height="15" fill="#fff"></rect><rect x="175.60" y="398.00" width="146.40" height="48.70" rx="5" fill="#fff" stroke="#333" stroke-width="1.5"></rect><rect x="369.00" y="398.00" width="141.80" height="48.70" rx="5" fill="#fff" stroke="#333" stroke-width="1.5"></rect><rect x="559.80" y="398.00" width="110.50" height="48.60" rx="5" fill="#fff" stroke="#333" stroke-width="1.5"></rect></svg>
<div class="t sb f2h" style="left: 211.55px; top: 117.9px;">Financial</div>
<div class="t sb f2h" style="left: 202.44px; top: 138px;">Institutions</div>
<div class="t sb f2h" style="left: 403.79px; top: 117.4px;">Fraud</div>
<div class="t sb f2h" style="left: 388.43px; top: 137.4px;">Detection</div>
<div class="t sb f2h2" style="left: 556.18px; top: 125.7px;">Transactional</div>
<div class="t sb f2h2" style="left: 572.48px; top: 145.2px;">Dataset &amp;</div>
<div class="t sb f2h2" style="left: 566.08px; top: 164.8px;">Knowledge</div>
<div class="t sb f2h2" style="left: 592.24px; top: 184.3px;">Base</div>
<div class="t sf f2s" style="left: 306.23px; top: 187.5px;">Data Flow</div>
<div class="t sf f2s" style="left: 306.23px; top: 252px;">Data Flow</div>
<div class="t sb f2b" style="left: 400.87px; top: 187px;">Precocssing</div>
<div class="t sb f2b" style="left: 393.87px; top: 251px;">Preprocessing</div>
<div class="t sb f2b" style="left: 395.42px; top: 319px;">Results/Alerts</div>
<div class="t sb f2m" style="left: 218.25px; top: 251.8px;">Financial</div>
<div class="t sb f2m" style="left: 211.77px; top: 267.5px;">Institutions</div>
<div class="t sm f2i" style="left: 216.15px; top: 330.3px;">Implementa-</div>
<div class="t sm f2i" style="left: 220.48px; top: 344.6px;">tion lenges</div>
<div class="t sf f2s" style="left: 308.54px; top: 327.7px;">Detection</div>
<div class="t sf f2s" style="left: 313.52px; top: 342px;">Process</div>
<div class="t sf f2s" style="left: 509.04px; top: 251.5px;">Detection</div>
<div class="t sf f2s" style="left: 513.02px; top: 265.8px;">Process</div>
<div class="t sf f2s" style="left: 448.54px; top: 287.8px;">Detection</div>
<div class="t sb f2c" style="left: 574.3px; top: 257.8px;">Transactional</div>
<div class="t sb f2c" style="left: 585.76px; top: 272px;">Dataset &amp;</div>
<div class="t sb f2c" style="left: 581.26px; top: 286.7px;">Knowledge</div>
<div class="t sb f2c" style="left: 599.65px; top: 300.8px;">Base</div>
<div class="t sf f2s" style="left: 570.19px; top: 358px;">Feedback Loop</div>
<div class="t sb f2g" style="left: 189.68px; top: 403.6px;">Implementation</div>
<div class="t sb f2g" style="left: 206.12px; top: 421.8px;">Challenges</div>
<div class="t sb f2g" style="left: 385.77px; top: 403.6px;">Implementatıo</div>
<div class="t sb f2g" style="left: 397.32px; top: 421.8px;">Challenges</div>
<div class="t sb f2g" style="left: 581.22px; top: 403.6px;">Regional</div>
<div class="t sb f2g" style="left: 576.76px; top: 421.8px;">Variations</div>
</div>
<div class="pg" style="left:2544px">
<div class="t hd" style="left: 172.8px; top: 47.9px; transform: scaleX(0.9691);">ASRC Procedia: Global Perspectives in Science and Scholarship, May 2023, 37–61</div>
<div class="t pn" style="left: 425.6px; top: 1120.5px;">40</div>
<div class="t bd j" style="left: 81px; top: 81px; width: 653.1px; transform: scaleX(1.081);">report that excessive false alarms increase operational costs and erode customer trust. Adversarial</div>
<div class="t bd j" style="left: 81px; top: 100.47px; width: 653.1px; transform: scaleX(1.081);">manipulation, where fraudsters deliberately craft inputs to evade detection, further complicates</div>
<div class="t bd j" style="left: 81px; top: 119.94px; width: 653.1px; transform: scaleX(1.081);">implementation. Scholars agree that these challenges highlight the complexity of applying machine</div>
<div class="t bd j" style="left: 81px; top: 139.41px; width: 330.13px; transform: scaleX(1.0723);">learning in high-stakes, real-time financial systems.</div>
<div class="t bd j" style="left: 81px; top: 158.88px; width: 653.1px; transform: scaleX(1.081);">Comparative analyses reveal that fraud detection approaches differ across regions due to variations in</div>
<div class="t bd j" style="left: 81px; top: 178.35px; width: 653.1px; transform: scaleX(1.081);">regulation, infrastructure, and institutional practices. In the European Union, PSD2 and strong</div>
<div class="t bd j" style="left: 81px; top: 197.82px; width: 653.1px; transform: scaleX(1.081);">customer authentication requirements drive the use of risk-based models that comply with regulatory</div>
<div class="t bd j" style="left: 81px; top: 217.29px; width: 653.1px; transform: scaleX(1.081);">thresholds. In North America, innovation is driven by fintech partnerships and large-scale data</div>
<div class="t bd j" style="left: 81px; top: 236.76px; width: 653.1px; transform: scaleX(1.081);">collaborations, with institutions emphasizing scalability and cloud-based fraud detection systems.</div>
<div class="t bd j" style="left: 81px; top: 256.23px; width: 653.1px; transform: scaleX(1.081);">Emerging economies, in contrast, face challenges related to limited infrastructure, insufficient</div>
<div class="t bd j" style="left: 81px; top: 275.7px; width: 664.25px; transform: scaleX(1.0629);">regulatory enforcement, and high reliance on mobile banking platforms. Studies by <span class="a">Kalkan et al.</span> (<span class="a">2020</span>)</div>
<div class="t bd j" style="left: 81px; top: 295.17px; width: 653.1px; transform: scaleX(1.081);">emphasize that infrastructural and cultural differences influence the effectiveness of fraud detection</div>
<div class="t bd j" style="left: 81px; top: 314.64px; width: 653.1px; transform: scaleX(1.081);">technologies. The literature demonstrates that fraud detection cannot be viewed solely as a technical</div>
<div class="t bd j" style="left: 81px; top: 334.11px; width: 653.1px; transform: scaleX(1.081);">issue but must be contextualized within regional financial ecosystems. The breadth and diversity of</div>
<div class="t bd j" style="left: 81px; top: 353.58px; width: 653.1px; transform: scaleX(1.081);">fraud detection research highlight the necessity of systematic synthesis to consolidate fragmented</div>
<div class="t bd j" style="left: 81px; top: 373.05px; width: 655.86px; transform: scaleX(1.0765);">findings. Previous reviews, such as those by <span class="a">Elavarasan et al.</span> (<span class="a">2020</span>), provided valuable overviews but</div>
<div class="t bd j" style="left: 81px; top: 392.52px; width: 653.1px; transform: scaleX(1.081);">lacked the scope to integrate emerging advances in deep learning, hybrid models, and interpretability</div>
<div class="t bd j" style="left: 81px; top: 411.99px; width: 653.1px; transform: scaleX(1.081);">frameworks. More recent syntheses, such as <span class="a">Fainshmidt et al.</span> (<span class="a">2020</span>), have focused on specific</div>
<div class="t bd j" style="left: 81px; top: 431.46px; width: 653.1px; transform: scaleX(1.081);">methodological aspects but do not provide comprehensive cross-regional or cross-methodological</div>
<div class="t bd j" style="left: 81px; top: 450.93px; width: 653.1px; transform: scaleX(1.081);">comparisons. &nbsp;argue that without systematic synthesis, research remains fragmented, hindering the</div>
<div class="t bd j" style="left: 81px; top: 470.4px; width: 653.1px; transform: scaleX(1.081);">development of coherent frameworks for application. The inclusion of diverse studies in this review</div>
<div class="t bd j" style="left: 81px; top: 489.87px; width: 653.1px; transform: scaleX(1.081);">spanning supervised, unsupervised, deep learning, hybrid models, and regulatory perspectives</div>
<div class="t bd j" style="left: 81px; top: 509.34px; width: 653.1px; transform: scaleX(1.081);">ensures that a wide range of methodological and contextual insights are integrated. This approach</div>
<div class="t bd j" style="left: 81px; top: 528.81px; width: 658.48px; transform: scaleX(1.0722);">enables a more holistic understanding of how machine learning contributes to fraud detection in digital</div>
<div class="t bd j" style="left: 81px; top: 548.28px; width: 626.88px; transform: scaleX(1.0761);">banking and highlights the academic value of structured evidence mapping (<span class="a">Lee &amp; Wright, 2016</span>).</div>
<div class="t bd hb" style="left: 81px; top: 567.75px; transform: scaleX(0.9726);">LITERATURE REVIEW</div>
<div class="t bd j" style="left: 81px; top: 587.22px; width: 659.47px; transform: scaleX(1.0706);">The literature on fraud detection in digital banking reveals a multidisciplinary convergence of financial</div>
<div class="t bd j" style="left: 81px; top: 606.69px; width: 653.1px; transform: scaleX(1.081);">risk management, computer science, and regulatory policy. Scholars have consistently demonstrated</div>
<div class="t bd j" style="left: 81px; top: 626.16px; width: 653.1px; transform: scaleX(1.081);">that fraud detection cannot be examined in isolation; rather, it must be understood within the broader</div>
<div class="t bd j" style="left: 81px; top: 645.63px; width: 653.1px; transform: scaleX(1.081);">framework of digital transformation in banking systems. Early studies primarily relied on statistical</div>
<div class="t bd j" style="left: 81px; top: 665.1px; width: 653.1px; transform: scaleX(1.081);">and rule-based approaches to identify fraudulent patterns, but the exponential growth of transaction</div>
<div class="t bd j" style="left: 81px; top: 684.57px; width: 653.1px; transform: scaleX(1.081);">volumes and sophistication of fraud tactics necessitated the adoption of machine learning techniques.</div>
<div class="t bd j" style="left: 81px; top: 704.04px; width: 653.1px; transform: scaleX(1.081);">Recent contributions show that machine learning not only improves classification accuracy but also</div>
<div class="t bd j" style="left: 81px; top: 723.51px; width: 653.1px; transform: scaleX(1.081);">enables real-time, large-scale fraud detection across international markets. Furthermore, literature</div>
<div class="t bd j" style="left: 81px; top: 742.98px; width: 653.1px; transform: scaleX(1.081);">emphasizes that the efficacy of fraud detection systems depends not only on algorithmic innovations</div>
<div class="t bd j" style="left: 81px; top: 762.45px; width: 653.1px; transform: scaleX(1.081);">but also on data quality, organizational culture, and regulatory compliance. This section of the review</div>
<div class="t bd j" style="left: 81px; top: 781.92px; width: 653.1px; transform: scaleX(1.081);">synthesizes scholarship from multiple disciplines to provide an integrated understanding of machine</div>
<div class="t bd j" style="left: 81px; top: 801.39px; width: 653.1px; transform: scaleX(1.081);">learning applications in fraud detection. The subsections that follow are organized thematically,</div>
<div class="t bd j" style="left: 81px; top: 820.86px; width: 653.1px; transform: scaleX(1.081);">beginning with the conceptual and historical underpinnings of fraud detection research, progressing</div>
<div class="t bd j" style="left: 81px; top: 840.33px; width: 653.1px; transform: scaleX(1.081);">through algorithmic techniques, implementation challenges, and comparative cross-regional insights.</div>
<div class="t bd j" style="left: 81px; top: 859.8px; width: 653.1px; transform: scaleX(1.081);">By structuring the literature along these lines, the review establishes conceptual clarity and facilitates</div>
<div class="t bd j" style="left: 81px; top: 879.27px; width: 319.92px; transform: scaleX(1.0796);">the systematic mapping of knowledge in the field.</div>
<div class="t bd hb" style="left: 81px; top: 898.74px; transform: scaleX(1.0245);">Fraud in Financial Services</div>
<div class="t bd j" style="left: 81px; top: 918.21px; width: 653.1px; transform: scaleX(1.081);">Defining fraud in the context of financial services requires consideration of both legal interpretations</div>
<div class="t bd j" style="left: 81px; top: 937.68px; width: 653.1px; transform: scaleX(1.081);">and technological dimensions. Scholars consistently describe fraud as intentional deception designed</div>
<div class="t bd j" style="left: 81px; top: 957.15px; width: 653.1px; transform: scaleX(1.081);">to secure unlawful gains, often involving misrepresentation or concealment of information. In digital</div>
<div class="t bd j" style="left: 81px; top: 976.62px; width: 653.1px; transform: scaleX(1.081);">banking, fraud encompasses a spectrum of illicit behaviors, including account takeover, synthetic</div>
<div class="t bd j" style="left: 81px; top: 996.09px; width: 653.1px; transform: scaleX(1.081);">identity creation, phishing, and transaction manipulation, all of which exploit vulnerabilities in online</div>
<div class="t bd j" style="left: 81px; top: 1015.56px; width: 653.1px; transform: scaleX(1.081);">financial systems. From a conceptual perspective, fraud boundaries extend beyond theft to include</div>
<div class="t bd j" style="left: 81px; top: 1035.03px; width: 653.1px; transform: scaleX(1.081);">practices such as money laundering and terrorist financing, which undermine institutional and</div>
<div class="t bd j" style="left: 81px; top: 1054.5px; width: 653.1px; transform: scaleX(1.081);">regulatory integrity. The difficulty of establishing clear definitions lies in the evolving nature of fraud</div>
<div class="t bd j" style="left: 81px; top: 1073.97px; width: 653.1px; transform: scaleX(1.081);">schemes and the overlap between financial crime, cybercrime, and insider abuse. <span class="a">Nizioł</span> (<span class="a">2021</span>) frame</div>
<div class="t bd j" style="left: 81px; top: 1093.44px; width: 653.1px; transform: scaleX(1.081);">fraud within broader systemic risk frameworks, underscoring its potential to destabilize public trust</div>
</div>
<div class="pg" style="left:3392px">
<div class="t hd" style="left: 172.8px; top: 47.9px; transform: scaleX(0.9691);">ASRC Procedia: Global Perspectives in Science and Scholarship, May 2023, 37–61</div>
<div class="t pn" style="left: 425.6px; top: 1120.5px;">41</div>
<div class="t bd j" style="left: 81px; top: 81px; width: 653.1px; transform: scaleX(1.081);">and financial markets. Academically, studies emphasize that conceptual clarity in defining fraud is</div>
<div class="t bd j" style="left: 81px; top: 100.47px; width: 653.1px; transform: scaleX(1.081);">essential to designing effective detection models, as vague or inconsistent definitions hinder</div>
<div class="t bd j" style="left: 81px; top: 119.94px; width: 657.39px; transform: scaleX(1.0739);">comparability across research and practice. Thus, the literature reflects ongoing efforts to delimit fraud</div>
<div class="t bd j" style="left: 81px; top: 139.41px; width: 463.74px; transform: scaleX(1.081);">conceptually while acknowledging its multifaceted and adaptive nature.</div>
<div class="t bd hb" style="left: 282.6px; top: 175.9px; transform: scaleX(0.9329);">Figure 3: Fraud Detection Evolution in Finance</div>
<div class="t bd j" style="left: 81px; top: 580px; width: 653.1px; transform: scaleX(1.081);">Fraud detection in financial services has undergone a significant evolution from traditional manual</div>
<div class="t bd j" style="left: 81px; top: 599.49px; width: 653.1px; transform: scaleX(1.081);">auditing practices to automated, technology-driven systems designed to address the scale and</div>
<div class="t bd j" style="left: 81px; top: 618.98px; width: 653.1px; transform: scaleX(1.081);">complexity of modern banking. In the earliest phase, fraud detection relied heavily on manual</div>
<div class="t bd j" style="left: 81px; top: 638.47px; width: 653.1px; transform: scaleX(1.081);">inspection of financial statements, reconciliations, and compliance checks, where auditors identified</div>
<div class="t bd j" style="left: 81px; top: 657.96px; width: 653.1px; transform: scaleX(1.081);">anomalies through accounting expertise and transaction-level scrutiny. While these methods were</div>
<div class="t bd j" style="left: 81px; top: 677.45px; width: 653.1px; transform: scaleX(1.081);">valuable for small-scale operations, they became inadequate as transaction volumes increased</div>
<div class="t bd j" style="left: 81px; top: 696.94px; width: 656.45px; transform: scaleX(1.0755);">exponentially in the digital era. The introduction of rule-based systems in the 1980s and 1990s marked</div>
<div class="t bd j" style="left: 81px; top: 716.43px; width: 653.1px; transform: scaleX(1.081);">an early attempt at automation, using predefined rules such as transaction thresholds, spending limits,</div>
<div class="t bd j" style="left: 81px; top: 735.92px; width: 653.1px; transform: scaleX(1.081);">or blacklisted accounts to flag suspicious activities (<span class="a">Jahid, 2022</span>; <span class="a">Ridzuan et al., 2024</span>). Despite their</div>
<div class="t bd j" style="left: 81px; top: 755.41px; width: 653.1px; transform: scaleX(1.081);">interpretability, rule-based approaches were criticized for rigidity, inability to adapt to new fraud</div>
<div class="t bd j" style="left: 81px; top: 774.9px; width: 653.1px; transform: scaleX(1.081);">patterns, and high false-positive rates (<span class="a">Arifur &amp; Noor, 2022</span>). The transition to automated fraud</div>
<div class="t bd j" style="left: 81px; top: 794.39px; width: 653.1px; transform: scaleX(1.081);">detection was accelerated by the digitization of banking services, which enabled real-time transaction</div>
<div class="t bd j" style="left: 81px; top: 813.88px; width: 653.1px; transform: scaleX(1.081);">monitoring and introduced statistical and machine learning techniques into fraud detection research.</div>
<div class="t bd j" style="left: 81px; top: 833.37px; width: 653.73px; transform: scaleX(1.0799);">Studies highlight that automated approaches offered the scalability and adaptability required to handle</div>
<div class="t bd j" style="left: 81px; top: 852.86px; width: 653.1px; transform: scaleX(1.081);">the diversity of fraud tactics in online banking, marking a paradigm shift in fraud detection from</div>
<div class="t bd j" style="left: 81px; top: 872.35px; width: 507.36px; transform: scaleX(1.0695);">compliance-centered practices to data-driven analytics (<span class="a">Hasan &amp; Uddin, 2022</span>).</div>
<div class="t bd j" style="left: 81px; top: 891.84px; width: 653.1px; transform: scaleX(1.081);">Fraud detection in digital banking operates at the intersection of technological, organizational, and</div>
<div class="t bd j" style="left: 81px; top: 911.33px; width: 653.1px; transform: scaleX(1.081);">legal boundaries, each shaping the way fraudulent activities are understood and addressed. From a</div>
<div class="t bd j" style="left: 81px; top: 930.82px; width: 653.1px; transform: scaleX(1.081);">technological standpoint, fraud detection encompasses algorithms, data processing pipelines, and</div>
<div class="t bd j" style="left: 81px; top: 950.31px; width: 653.1px; transform: scaleX(1.081);">transaction monitoring infrastructures designed to identify anomalies (<span class="a">Rahaman, 2022</span>).</div>
<div class="t bd j" style="left: 81px; top: 969.8px; width: 653.1px; transform: scaleX(1.081);">Organizationally, fraud detection is embedded in risk management practices, compliance mandates,</div>
<div class="t bd j" style="left: 81px; top: 989.29px; width: 653.1px; transform: scaleX(1.081);">and customer service operations that dictate how alerts are interpreted and acted upon. Legal</div>
<div class="t bd j" style="left: 81px; top: 1008.78px; width: 653.1px; transform: scaleX(1.081);">frameworks introduce another layer, as fraud definitions and enforcement mechanisms vary across</div>
<div class="t bd j" style="left: 81px; top: 1028.27px; width: 653.1px; transform: scaleX(1.081);">jurisdictions, influencing the scope of detection systems and their compliance obligations. The</div>
<div class="t bd j" style="left: 81px; top: 1047.76px; width: 653.1px; transform: scaleX(1.081);">literature stresses that fraud detection boundaries must consider the challenges of cross-border</div>
<div class="t bd j" style="left: 81px; top: 1067.25px; width: 653.1px; transform: scaleX(1.081);">financial flows, regulatory heterogeneity, and data privacy constraints, all of which complicate the</div>
<div class="t bd j" style="left: 81px; top: 1086.74px; width: 653.1px; transform: scaleX(1.081);">design of universally applicable solutions (<span class="a">Halbouni et al., 2016</span>; <span class="a">Md Rahaman &amp; Ashraf, 2022</span>).</div>
<svg class="fg" width="848" height="1200" viewBox="0 0 848 1200"><rect x="139.00" y="212.00" width="585.20" height="337.50" rx="0" fill="#fff" stroke="#333" stroke-width="1.3"></rect><path d="M306.6999999999998 288 H336.5999999999999" fill="none" stroke="#333" stroke-width="1.3"></path><path d="M306.6999999999998 399 H528.1999999999998" fill="none" stroke="#333" stroke-width="1.3"></path><path d="M306.6999999999998 502.3 H336.5999999999999" fill="none" stroke="#333" stroke-width="1.3"></path><path d="M477.8000000000002 298.7 L528.1999999999998 382.6" fill="none" stroke="#333" stroke-width="1.3"></path><path d="M477.8000000000002 498.6 L528.1999999999998 412.2" fill="none" stroke="#333" stroke-width="1.3"></path><rect x="150.20" y="220.70" width="156.50" height="111.60" rx="9" fill="#fff" stroke="#333" stroke-width="1.5"></rect><rect x="150.20" y="343.00" width="156.50" height="112.70" rx="9" fill="#fff" stroke="#333" stroke-width="1.5"></rect><rect x="150.20" y="466.50" width="156.50" height="73.10" rx="9" fill="#fff" stroke="#333" stroke-width="1.5"></rect><rect x="336.60" y="257.50" width="141.20" height="101.80" rx="9" fill="#fff" stroke="#333" stroke-width="1.5"></rect><rect x="336.60" y="436.00" width="141.20" height="102.20" rx="9" fill="#fff" stroke="#333" stroke-width="1.5"></rect><rect x="528.20" y="360.40" width="187.10" height="86.40" rx="9" fill="#fff" stroke="#333" stroke-width="1.5"></rect></svg>
<div class="t sf f3" style="left: 171.4px; top: 230.4px;">legal interpretations</div>
<div class="t sf f3" style="left: 171.4px; top: 250.8px;">technological</div>
<div class="t sf f3" style="left: 171.4px; top: 267.2px;">dimensions</div>
<div class="t sf f3" style="left: 171.4px; top: 288px;">misreprepentation</div>
<div class="t sf f3" style="left: 171.4px; top: 305.2px;">or concealment</div>
<div class="t sf f3" style="left: 171.4px; top: 350.2px;">rule-based systems</div>
<div class="t sf f3" style="left: 171.4px; top: 371.8px;">predefined rules</div>
<div class="t sf f3" style="left: 171.4px; top: 393.1px;">money laundering</div>
<div class="t sf f3" style="left: 171.4px; top: 415.3px;">financial crime</div>
<div class="t sf f3" style="left: 171.4px; top: 431.6px;">overiap</div>
<div class="t sf f3" style="left: 171.4px; top: 476px;">digitization of</div>
<div class="t sf f3" style="left: 171.4px; top: 491.8px;">banking</div>
<div class="t sf f3" style="left: 171.4px; top: 514px;">real-time monitoring</div>
<div class="t sf f3" style="left: 363.8px; top: 264.8px; transform: scaleX(1.0597);">Definitions and</div>
<div class="t sf f3" style="left: 383.6px; top: 281.8px; transform: scaleX(1.1229);">Conceptual</div>
<div class="t sf f3" style="left: 373.5px; top: 298.3px; transform: scaleX(1.0306);">Boundaries of</div>
<div class="t sf f3" style="left: 352px; top: 315.1px; transform: scaleX(0.9818);">Fraud in Financial</div>
<div class="t sf f3" style="left: 405.5px; top: 332.4px; transform: scaleX(1.0979);">Services</div>
<div class="t sf f3" style="left: 356.3px; top: 444.8px; transform: scaleX(0.9939);">manual inspection</div>
<div class="t sf f3" style="left: 356.3px; top: 464.7px; transform: scaleX(0.9358);">financial statement</div>
<div class="t sf f3" style="left: 356.3px; top: 487.8px; transform: scaleX(0.924);">rule-based systems</div>
<div class="t sf f3" style="left: 356.3px; top: 509.1px; transform: scaleX(1.0347);">predefined rules</div>
<div class="t sf f3" style="left: 548.9px; top: 367.4px; transform: scaleX(1.0394);">Evolution from Manual</div>
<div class="t sf f3" style="left: 545px; top: 385.8px; transform: scaleX(0.9827);">Auditing and Rule-Based</div>
<div class="t sf f3" style="left: 553.9px; top: 403.8px; transform: scaleX(1.027);">Systems to Automated</div>
<div class="t sf f3" style="left: 593.4px; top: 421.8px; transform: scaleX(1.0712);">Fraud Detection</div>
<svg class="fg" width="848" height="1200" viewBox="0 0 848 1200"><circle cx="162.10" cy="240.80" r="2.2" fill="#222"></circle><circle cx="162.10" cy="261.20" r="2.2" fill="#222"></circle><circle cx="162.10" cy="298.40" r="2.2" fill="#222"></circle><circle cx="162.10" cy="360.60" r="2.2" fill="#222"></circle><circle cx="162.10" cy="382.20" r="2.2" fill="#222"></circle><circle cx="162.10" cy="403.50" r="2.2" fill="#222"></circle><circle cx="162.10" cy="425.70" r="2.2" fill="#222"></circle><circle cx="162.10" cy="486.40" r="2.2" fill="#222"></circle><circle cx="162.10" cy="524.40" r="2.2" fill="#222"></circle><circle cx="347.10" cy="455.20" r="2.2" fill="#222"></circle><circle cx="347.10" cy="475.10" r="2.2" fill="#222"></circle><circle cx="347.10" cy="498.20" r="2.2" fill="#222"></circle><circle cx="347.10" cy="519.50" r="2.2" fill="#222"></circle></svg>
</div>
</body></html>
